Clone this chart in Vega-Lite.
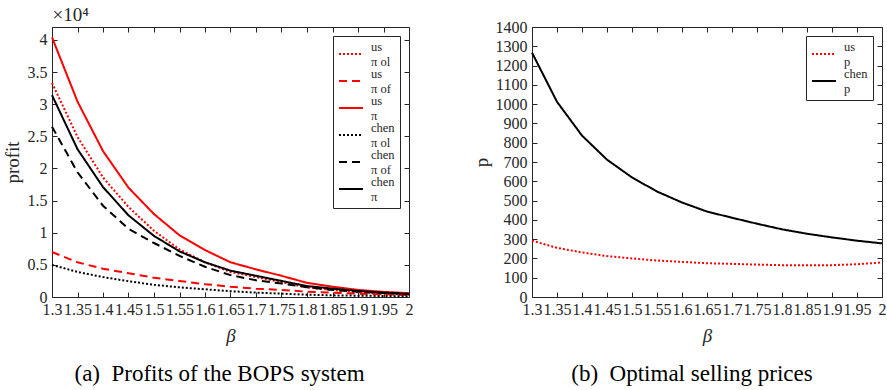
{
  "$schema": "https://vega.github.io/schema/vega-lite/v6.json",
  "padding": {"left": 3, "top": 5, "right": 4, "bottom": 5},
  "background": "white",
  "config": {
    "font": "Liberation Serif",
    "view": {"stroke": null},
    "axis": {
      "labelFont": "Liberation Serif", "titleFont": "Liberation Serif",
      "labelFontSize": 16, "titleFontSize": 18, "titleFontWeight": "normal",
      "labelColor": "#262626", "titleColor": "#262626",
      "domainColor": "#262626", "tickColor": "#262626",
      "grid": false, "tickSize": -5, "labelPadding": 10, "domainWidth": 1, "tickWidth": 1
    },
    "legend": {
      "orient": "top-right", "offset": 9, "title": null,
      "strokeColor": "#262626", "fillColor": "white", "padding": 5,
      "symbolType": "stroke", "symbolSize": 576, "symbolStrokeWidth": 2,
      "labelFont": "Liberation Serif", "labelFontSize": 12.5, "labelColor": "#262626",
      "labelBaseline": "bottom", "rowPadding": 0, "labelOffset": 7
    },
    "title": {"font": "Liberation Serif", "fontWeight": "normal", "fontSize": 23, "color": "black"}
  },
  "datasets": {
    "profits": [
      {"beta": 1.3, "series": "ol_us", "profit": 33300}, {"beta": 1.35, "series": "ol_us", "profit": 24900}, {"beta": 1.4, "series": "ol_us", "profit": 18600}, {"beta": 1.45, "series": "ol_us", "profit": 14000}, {"beta": 1.5, "series": "ol_us", "profit": 10300}, {"beta": 1.55, "series": "ol_us", "profit": 7400}, {"beta": 1.6, "series": "ol_us", "profit": 5400}, {"beta": 1.65, "series": "ol_us", "profit": 3900}, {"beta": 1.7, "series": "ol_us", "profit": 3100}, {"beta": 1.75, "series": "ol_us", "profit": 2300}, {"beta": 1.8, "series": "ol_us", "profit": 1500}, {"beta": 1.85, "series": "ol_us", "profit": 1100}, {"beta": 1.9, "series": "ol_us", "profit": 750}, {"beta": 1.95, "series": "ol_us", "profit": 500}, {"beta": 2, "series": "ol_us", "profit": 350},
      {"beta": 1.3, "series": "of_us", "profit": 7000}, {"beta": 1.35, "series": "of_us", "profit": 5400}, {"beta": 1.4, "series": "of_us", "profit": 4400}, {"beta": 1.45, "series": "of_us", "profit": 3700}, {"beta": 1.5, "series": "of_us", "profit": 3000}, {"beta": 1.55, "series": "of_us", "profit": 2500}, {"beta": 1.6, "series": "of_us", "profit": 2000}, {"beta": 1.65, "series": "of_us", "profit": 1600}, {"beta": 1.7, "series": "of_us", "profit": 1300}, {"beta": 1.75, "series": "of_us", "profit": 1100}, {"beta": 1.8, "series": "of_us", "profit": 830}, {"beta": 1.85, "series": "of_us", "profit": 680}, {"beta": 1.9, "series": "of_us", "profit": 520}, {"beta": 1.95, "series": "of_us", "profit": 420}, {"beta": 2, "series": "of_us", "profit": 310},
      {"beta": 1.3, "series": "us", "profit": 40400}, {"beta": 1.35, "series": "us", "profit": 30400}, {"beta": 1.4, "series": "us", "profit": 22700}, {"beta": 1.45, "series": "us", "profit": 17000}, {"beta": 1.5, "series": "us", "profit": 12900}, {"beta": 1.55, "series": "us", "profit": 9600}, {"beta": 1.6, "series": "us", "profit": 7300}, {"beta": 1.65, "series": "us", "profit": 5400}, {"beta": 1.7, "series": "us", "profit": 4300}, {"beta": 1.75, "series": "us", "profit": 3300}, {"beta": 1.8, "series": "us", "profit": 2200}, {"beta": 1.85, "series": "us", "profit": 1600}, {"beta": 1.9, "series": "us", "profit": 1100}, {"beta": 1.95, "series": "us", "profit": 800}, {"beta": 2, "series": "us", "profit": 600},
      {"beta": 1.3, "series": "ol_chen", "profit": 5000}, {"beta": 1.35, "series": "ol_chen", "profit": 3900}, {"beta": 1.4, "series": "ol_chen", "profit": 3100}, {"beta": 1.45, "series": "ol_chen", "profit": 2450}, {"beta": 1.5, "series": "ol_chen", "profit": 1900}, {"beta": 1.55, "series": "ol_chen", "profit": 1500}, {"beta": 1.6, "series": "ol_chen", "profit": 1200}, {"beta": 1.65, "series": "ol_chen", "profit": 900}, {"beta": 1.7, "series": "ol_chen", "profit": 680}, {"beta": 1.75, "series": "ol_chen", "profit": 520}, {"beta": 1.8, "series": "ol_chen", "profit": 360}, {"beta": 1.85, "series": "ol_chen", "profit": 260}, {"beta": 1.9, "series": "ol_chen", "profit": 200}, {"beta": 1.95, "series": "ol_chen", "profit": 160}, {"beta": 2, "series": "ol_chen", "profit": 100},
      {"beta": 1.3, "series": "of_chen", "profit": 26500}, {"beta": 1.35, "series": "of_chen", "profit": 19400}, {"beta": 1.4, "series": "of_chen", "profit": 14200}, {"beta": 1.45, "series": "of_chen", "profit": 10600}, {"beta": 1.5, "series": "of_chen", "profit": 8400}, {"beta": 1.55, "series": "of_chen", "profit": 6400}, {"beta": 1.6, "series": "of_chen", "profit": 4700}, {"beta": 1.65, "series": "of_chen", "profit": 3400}, {"beta": 1.7, "series": "of_chen", "profit": 2600}, {"beta": 1.75, "series": "of_chen", "profit": 2100}, {"beta": 1.8, "series": "of_chen", "profit": 1500}, {"beta": 1.85, "series": "of_chen", "profit": 1100}, {"beta": 1.9, "series": "of_chen", "profit": 830}, {"beta": 1.95, "series": "of_chen", "profit": 630}, {"beta": 2, "series": "of_chen", "profit": 470},
      {"beta": 1.3, "series": "chen", "profit": 31400}, {"beta": 1.35, "series": "chen", "profit": 23000}, {"beta": 1.4, "series": "chen", "profit": 17100}, {"beta": 1.45, "series": "chen", "profit": 12700}, {"beta": 1.5, "series": "chen", "profit": 9500}, {"beta": 1.55, "series": "chen", "profit": 7100}, {"beta": 1.6, "series": "chen", "profit": 5400}, {"beta": 1.65, "series": "chen", "profit": 4100}, {"beta": 1.7, "series": "chen", "profit": 3300}, {"beta": 1.75, "series": "chen", "profit": 2500}, {"beta": 1.8, "series": "chen", "profit": 1700}, {"beta": 1.85, "series": "chen", "profit": 1300}, {"beta": 1.9, "series": "chen", "profit": 940}, {"beta": 1.95, "series": "chen", "profit": 680}, {"beta": 2, "series": "chen", "profit": 470}
    ],
    "prices": [
      {"beta": 1.3, "series": "us", "p": 292}, {"beta": 1.35, "series": "us", "p": 255}, {"beta": 1.4, "series": "us", "p": 231}, {"beta": 1.45, "series": "us", "p": 212}, {"beta": 1.5, "series": "us", "p": 200}, {"beta": 1.55, "series": "us", "p": 189}, {"beta": 1.6, "series": "us", "p": 182}, {"beta": 1.65, "series": "us", "p": 175}, {"beta": 1.7, "series": "us", "p": 172}, {"beta": 1.75, "series": "us", "p": 168}, {"beta": 1.8, "series": "us", "p": 165}, {"beta": 1.85, "series": "us", "p": 165}, {"beta": 1.9, "series": "us", "p": 165}, {"beta": 1.95, "series": "us", "p": 170}, {"beta": 2, "series": "us", "p": 179},
      {"beta": 1.3, "series": "chen", "p": 1267}, {"beta": 1.35, "series": "chen", "p": 1012}, {"beta": 1.4, "series": "chen", "p": 837}, {"beta": 1.45, "series": "chen", "p": 712}, {"beta": 1.5, "series": "chen", "p": 620}, {"beta": 1.55, "series": "chen", "p": 547}, {"beta": 1.6, "series": "chen", "p": 490}, {"beta": 1.65, "series": "chen", "p": 443}, {"beta": 1.7, "series": "chen", "p": 411}, {"beta": 1.75, "series": "chen", "p": 380}, {"beta": 1.8, "series": "chen", "p": 351}, {"beta": 1.85, "series": "chen", "p": 328}, {"beta": 1.9, "series": "chen", "p": 309}, {"beta": 1.95, "series": "chen", "p": 292}, {"beta": 2, "series": "chen", "p": 278}
    ]
  },
  "bounds": "flush",
  "spacing": 123,
  "resolve": {"scale": {"color": "independent", "strokeDash": "independent"}, "legend": {"color": "independent", "strokeDash": "independent"}},
  "hconcat": [
    {
      "width": 357, "height": 270,
      "title": {"text": "(a)\u2002Profits of the BOPS system", "orient": "bottom", "offset": 18, "frame": "group", "dx": -11},
      "data": {"name": "profits"},
      "resolve": {"axis": {"x": "independent", "y": "independent"}},
      "layer": [
        {
          "mark": {"type": "line", "strokeWidth": 2},
          "encoding": {
            "x": {"field": "beta", "type": "quantitative", "scale": {"domain": [1.3, 2], "nice": false, "zero": false},
              "axis": {"orient": "bottom", "values": [1.3,1.35,1.4,1.45,1.5,1.55,1.6,1.65,1.7,1.75,1.8,1.85,1.9,1.95,2], "labelExpr": "toString(datum.value)", "labelOverlap": false, "labelFlush": false, "labelPadding": 9, "labelFontSize": 16, "title": "β", "titleFontStyle": "italic", "titlePadding": 9, "titleFontSize": 19}},
            "y": {"field": "profit", "type": "quantitative", "scale": {"domain": [0, 42000], "nice": false},
              "axis": {"orient": "left", "values": [0,5000,10000,15000,20000,25000,30000,35000,40000], "labelExpr": "toString(datum.value/10000)", "labelFontSize": 16, "title": "profit", "titleFontSize": 19, "titlePadding": 5}},
            "color": {"field": "series", "type": "nominal",
              "scale": {"domain": ["ol_us","of_us","us","ol_chen","of_chen","chen"], "range": ["#ff0000","#ff0000","#ff0000","#000000","#000000","#000000"]},
              "legend": {"labelExpr": "datum.value == 'ol_us' ? ['\u2002us', 'π ol'] : datum.value == 'of_us' ? ['\u2002us', 'π of'] : datum.value == 'us' ? ['\u2002us', 'π'] : datum.value == 'ol_chen' ? ['\u2002chen', 'π ol'] : datum.value == 'of_chen' ? ['\u2002chen', 'π of'] : ['\u2002chen', 'π']"}},
            "strokeDash": {"field": "series", "type": "nominal",
              "scale": {"domain": ["ol_us","of_us","us","ol_chen","of_chen","chen"], "range": [[2,2],[8,5],[1,0],[2,2],[8,5],[1,0]]},
              "legend": {"labelExpr": "datum.value == 'ol_us' ? ['\u2002us', 'π ol'] : datum.value == 'of_us' ? ['\u2002us', 'π of'] : datum.value == 'us' ? ['\u2002us', 'π'] : datum.value == 'ol_chen' ? ['\u2002chen', 'π ol'] : datum.value == 'of_chen' ? ['\u2002chen', 'π of'] : ['\u2002chen', 'π']"}}
          }
        },
        {
          "mark": {"type": "line", "opacity": 0},
          "encoding": {
            "x": {"field": "beta", "type": "quantitative", "axis": {"orient": "top", "values": [1.3,1.35,1.4,1.45,1.5,1.55,1.6,1.65,1.7,1.75,1.8,1.85,1.9,1.95,2], "labels": false, "title": "×10⁴", "titleAnchor": "start", "titleAlign": "left", "titleFontSize": 19, "titlePadding": 2}},
            "y": {"field": "profit", "type": "quantitative", "axis": {"orient": "right", "values": [0,5000,10000,15000,20000,25000,30000,35000,40000], "labels": false, "title": null}},
            "detail": {"field": "series"}
          }
        }
      ]
    },
    {
      "width": 350, "height": 270,
      "title": {"text": "(b)\u2002Optimal selling prices", "orient": "bottom", "offset": 18, "frame": "group", "dx": -15},
      "data": {"name": "prices"},
      "resolve": {"axis": {"x": "independent", "y": "independent"}},
      "layer": [
        {
          "mark": {"type": "line", "strokeWidth": 2},
          "encoding": {
            "x": {"field": "beta", "type": "quantitative", "scale": {"domain": [1.3, 2], "nice": false, "zero": false},
              "axis": {"orient": "bottom", "values": [1.3,1.35,1.4,1.45,1.5,1.55,1.6,1.65,1.7,1.75,1.8,1.85,1.9,1.95,2], "labelExpr": "toString(datum.value)", "labelOverlap": false, "labelFlush": false, "labelPadding": 9, "labelFontSize": 16, "title": "β", "titleFontStyle": "italic", "titlePadding": 9, "titleFontSize": 19}},
            "y": {"field": "p", "type": "quantitative", "scale": {"domain": [0, 1400], "nice": false},
              "axis": {"orient": "left", "values": [0,100,200,300,400,500,600,700,800,900,1000,1100,1200,1300,1400], "labelExpr": "toString(datum.value)", "labelOverlap": false, "labelFontSize": 16, "title": "p", "titleFontSize": 19, "titlePadding": 4}},
            "color": {"field": "series", "type": "nominal",
              "scale": {"domain": ["us","chen"], "range": ["#ff0000","#000000"]},
              "legend": {"labelExpr": "datum.value == 'us' ? ['\u2002us', 'p'] : ['\u2002chen', 'p']"}},
            "strokeDash": {"field": "series", "type": "nominal",
              "scale": {"domain": ["us","chen"], "range": [[2,2],[1,0]]},
              "legend": {"labelExpr": "datum.value == 'us' ? ['\u2002us', 'p'] : ['\u2002chen', 'p']"}}
          }
        },
        {
          "mark": {"type": "line", "opacity": 0},
          "encoding": {
            "x": {"field": "beta", "type": "quantitative", "axis": {"orient": "top", "values": [1.3,1.35,1.4,1.45,1.5,1.55,1.6,1.65,1.7,1.75,1.8,1.85,1.9,1.95,2], "labels": false, "title": null}},
            "y": {"field": "p", "type": "quantitative", "axis": {"orient": "right", "values": [0,100,200,300,400,500,600,700,800,900,1000,1100,1200,1300,1400], "labels": false, "title": null}},
            "detail": {"field": "series"}
          }
        }
      ]
    }
  ]
}
